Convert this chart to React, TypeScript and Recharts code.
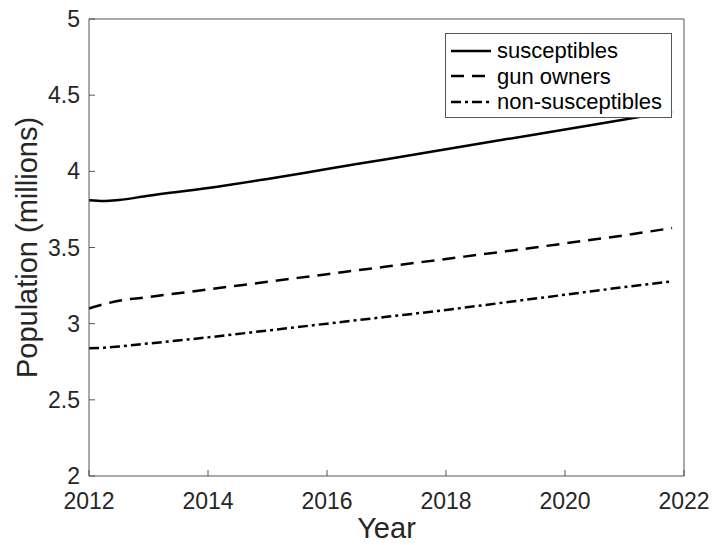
import React from "react";
import { Legend, Line, LineChart, XAxis, YAxis } from "recharts";

const years = [2012, 2012.25, 2012.5, 2013, 2014, 2015, 2016, 2017, 2018, 2019, 2020, 2021, 2021.8];
const susceptibles = [3.81, 3.805, 3.812, 3.84, 3.89, 3.95, 4.015, 4.08, 4.145, 4.21, 4.275, 4.34, 4.395];
const gunOwners = [3.1, 3.128, 3.15, 3.175, 3.225, 3.275, 3.325, 3.375, 3.425, 3.475, 3.527, 3.58, 3.628];
const nonSusceptibles = [2.838, 2.842, 2.85, 2.87, 2.91, 2.955, 3.0, 3.045, 3.09, 3.14, 3.19, 3.24, 3.278];

const xTicks = [2012, 2014, 2016, 2018, 2020, 2022];
const yTicks = [2, 2.5, 3, 3.5, 4, 4.5, 5];

const series = [
  { key: "susceptibles", name: "susceptibles", dash: undefined as string | undefined },
  { key: "gunOwners", name: "gun owners", dash: "13 8" },
  { key: "nonSusceptibles", name: "non-susceptibles", dash: "10 4 3 4" },
];

const data = years.map((year, i) => ({
  year,
  susceptibles: susceptibles[i],
  gunOwners: gunOwners[i],
  nonSusceptibles: nonSusceptibles[i],
}));

const FONT = '"Liberation Sans", Arial, Helvetica, sans-serif';
const INK = "#262626";
const AXIS = "#555555";

const tickStyle = { fontSize: 23, fill: INK, fontFamily: FONT };

function LegendBox() {
  return (
    <div
      style={{
        background: "#fff",
        border: `1px solid ${AXIS}`,
        width: 227,
        height: 85,
        boxSizing: "border-box",
        padding: "4px 0 0 4px",
        fontFamily: FONT,
        fontSize: 22,
        color: "#000",
      }}
    >
      {series.map((s) => (
        <div key={s.key} style={{ display: "flex", alignItems: "center", height: 25.5 }}>
          <svg width={42} height={10} style={{ marginRight: 5 }}>
            <line x1={1} y1={5} x2={41} y2={5} stroke="#000" strokeWidth={2.5} strokeDasharray={s.dash} />
          </svg>
          <span style={{ lineHeight: "25px" }}>{s.name}</span>
        </div>
      ))}
    </div>
  );
}

export default function App() {
  return (
    <div style={{ position: "absolute", left: 0, top: 0, background: "#fff" }}>
      <LineChart width={712} height={545} data={data} margin={{ top: 18, right: 27, left: 0, bottom: 0 }}>
        <XAxis
          xAxisId="b"
          dataKey="year"
          type="number"
          domain={[2012, 2022]}
          ticks={xTicks}
          height={69}
          tick={tickStyle}
          tickSize={-6}
          tickMargin={23}
          axisLine={{ stroke: AXIS }}
          tickLine={{ stroke: AXIS }}
          label={(p: any) => {
            const vb = p.viewBox;
            return (
              <text x={vb.x + vb.width / 2} y={vb.y + 62} textAnchor="middle" fontSize={29} fill={INK} fontFamily={FONT}>
                Year
              </text>
            );
          }}
        />
        <XAxis
          xAxisId="t"
          orientation="top"
          dataKey="year"
          type="number"
          domain={[2012, 2022]}
          ticks={xTicks}
          height={1}
          tick={false}
          tickSize={-6}
          axisLine={{ stroke: AXIS }}
          tickLine={{ stroke: AXIS }}
        />
        <YAxis
          yAxisId="l"
          type="number"
          domain={[2, 5]}
          ticks={yTicks}
          width={89}
          tick={tickStyle}
          tickSize={-6}
          tickMargin={15}
          axisLine={{ stroke: AXIS }}
          tickLine={{ stroke: AXIS }}
          label={(p: any) => {
            const vb = p.viewBox;
            const cx = 37;
            const cy = vb.y + vb.height / 2;
            return (
              <text
                x={cx}
                y={cy}
                transform={`rotate(-90, ${cx}, ${cy})`}
                textAnchor="middle"
                fontSize={29}
                fill={INK}
                fontFamily={FONT}
              >
                Population (millions)
              </text>
            );
          }}
        />
        <YAxis
          yAxisId="r"
          orientation="right"
          type="number"
          domain={[2, 5]}
          ticks={yTicks}
          width={1}
          tick={false}
          tickSize={-6}
          axisLine={{ stroke: AXIS }}
          tickLine={{ stroke: AXIS }}
        />
        {series.map((s) => (
          <Line
            key={s.key}
            xAxisId="b"
            yAxisId="l"
            type="monotone"
            dataKey={s.key}
            name={s.name}
            stroke="#000"
            strokeWidth={2.5}
            strokeDasharray={s.dash}
            dot={false}
            activeDot={false}
            isAnimationActive={false}
          />
        ))}
        <Legend
          layout="vertical"
          align="center"
          verticalAlign="middle"
          content={() => <LegendBox />}
          wrapperStyle={{ left: 445, top: 33, width: 227, height: 85 }}
        />
      </LineChart>
    </div>
  );
}
